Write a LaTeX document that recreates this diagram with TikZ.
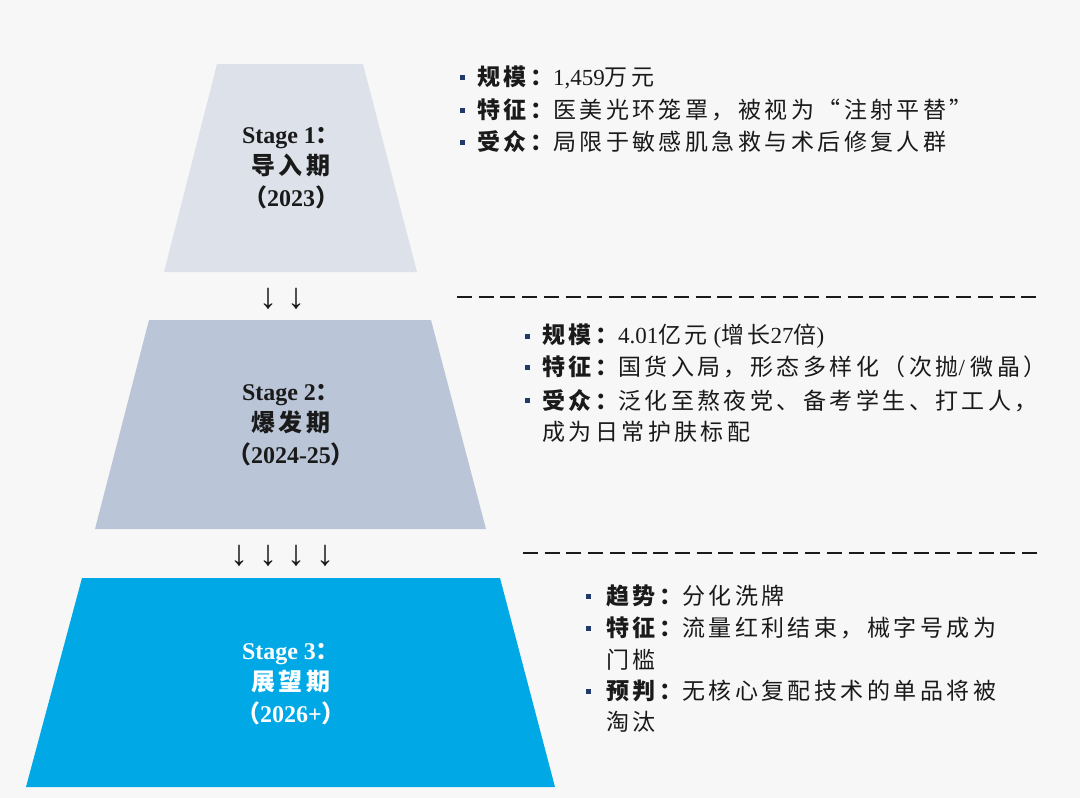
\documentclass[tikz,border=0pt]{standalone}
\usepackage{fontspec}
\setmainfont{Liberation Serif}
\newfontfamily\zh[LetterSpace=15]{Noto Sans CJK SC}
\definecolor{pagebg}{HTML}{F7F7F7}
\definecolor{stageA}{HTML}{DDE2EA}
\definecolor{stageB}{HTML}{BAC6D7}
\definecolor{stageC}{HTML}{00A8E5}
\definecolor{navy}{HTML}{1F3A6B}
\definecolor{inkdark}{HTML}{1A1A1A}
\tikzset{
  stagelbl/.style={align=center, text=inkdark, font=\fontsize{24}{31.5}\selectfont\bfseries},
  itemtxt/.style={anchor=west, align=left, inner sep=0pt, text=inkdark, font=\fontsize{23}{31.5}\selectfont},
  bullet/.style={fill=navy, minimum size=5pt, inner sep=0pt},
  divider/.style={draw=inkdark, line width=2.4pt, dash pattern=on 15pt off 6.7pt},
  downarr/.style={inner sep=0pt, text=inkdark, font=\fontsize{36}{36}\selectfont},
}
\begin{document}
\begin{tikzpicture}[x=1pt,y=-1pt]
\fill[pagebg] (0,0) rectangle (1080,798);
\useasboundingbox (0,0) rectangle (1080,798);
% funnel layers
\fill[stageA] (217,64) -- (363,64) -- (417,272) -- (164,272) -- cycle;
\fill[stageB] (149,320) -- (431,320) -- (486,529) -- (95,529) -- cycle;
\fill[stageC] (82,578) -- (500,578) -- (555,787) -- (26,787) -- cycle;
\node[stagelbl] (st1) at (291,168) {Stage 1{\zh ：}\\{\zh 导入期}\\{\zh （}2023{\zh ）}};
\node[stagelbl] (st2) at (291,425) {Stage 2{\zh ：}\\{\zh 爆发期}\\{\zh （}2024-25{\zh ）}};
\node[stagelbl, text=white] (st3) at (291,684) {Stage 3{\zh ：}\\{\zh 展望期}\\{\zh （}2026+{\zh ）}};
% arrows between layers
\node[downarr] (dA1) at (268,299) {↓};
\node[downarr] (dA2) at (296,299) {↓};
\node[downarr] (dB1) at (239,556) {↓};
\node[downarr] (dB2) at (268,556) {↓};
\node[downarr] (dB3) at (296,556) {↓};
\node[downarr] (dB4) at (325,556) {↓};
% stage 1 notes
\node[bullet] (b1a) at (462,77) {};
\node[itemtxt] (t1a) at (477,77) {{\zh\bfseries 规模：}1,459{\zh 万元}};
\node[bullet] (b1b) at (462,110) {};
\node[itemtxt] (t1b) at (477,110) {{\zh\bfseries 特征：}{\zh 医美光环笼罩，被视为“注射平替”}};
\node[bullet] (b1c) at (462,142) {};
\node[itemtxt] (t1c) at (477,142) {{\zh\bfseries 受众：}{\zh 局限于敏感肌急救与术后修复人群}};
\draw[divider] (457,297) -- (1038,297);
% stage 2 notes
\node[bullet] (b2a) at (527,336) {};
\node[itemtxt] (t2a) at (542,336) {{\zh\bfseries 规模：}4.01{\zh 亿元} ({\zh 增长}27{\zh 倍})};
\node[bullet] (b2b) at (527,367) {};
\node[itemtxt] (t2b) at (542,367) {{\zh\bfseries 特征：}{\zh 国货入局，形态多样化（次抛}/ {\zh 微晶）}};
\node[bullet] (b2c) at (527,400) {};
\node[itemtxt] (t2c) at (542,416) {{\zh\bfseries 受众：}{\zh 泛化至熬夜党、备考学生、打工人，}\\{\zh 成为日常护肤标配}};
\draw[divider] (523,553) -- (1038,553);
% stage 3 notes
\node[bullet] (b3a) at (588,596) {};
\node[itemtxt] (t3a) at (606,596) {{\zh\bfseries 趋势：}{\zh 分化洗牌}};
\node[bullet] (b3b) at (588,628) {};
\node[itemtxt] (t3b) at (606,643.5) {{\zh\bfseries 特征：}{\zh 流量红利结束，械字号成为}\\{\zh 门槛}};
\node[bullet] (b3c) at (588,691) {};
\node[itemtxt] (t3c) at (606,706) {{\zh\bfseries 预判：}{\zh 无核心复配技术的单品将被}\\{\zh 淘汰}};
\end{tikzpicture}
\end{document}
